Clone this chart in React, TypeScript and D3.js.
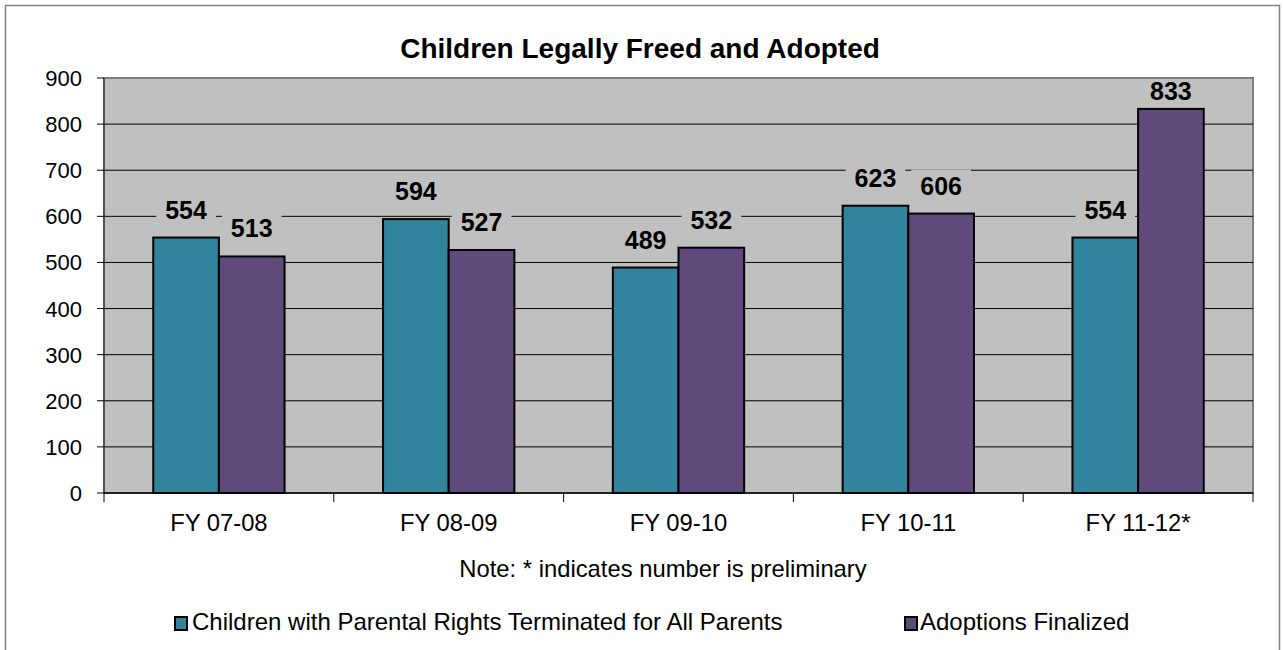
import React from "react";
import * as d3 from "d3";

const categories = ["FY 07-08", "FY 08-09", "FY 09-10", "FY 10-11", "FY 11-12*"];
const seriesNames = [
  "Children with Parental Rights Terminated for All Parents",
  "Adoptions Finalized",
];
const terminatedValues = [554, 594, 489, 623, 554];
const adoptedValues = [513, 527, 532, 606, 833];
const seriesColors = ["#31849B", "#604A7B"];
const yTicks = [0, 100, 200, 300, 400, 500, 600, 700, 800, 900];

const width = 1283;
const height = 650;
const plot = { left: 104, right: 1253, top: 78, bottom: 493 };
const font = "'Liberation Sans', Arial, sans-serif";

export default function App() {
  const x0 = d3
    .scaleBand<string>()
    .domain(categories)
    .range([plot.left, plot.right])
    .paddingInner(0)
    .paddingOuter(0);

  const x1 = d3
    .scaleBand<string>()
    .domain(seriesNames)
    .range([0, x0.bandwidth()])
    .paddingInner(0)
    .paddingOuter(0.75);

  const y = d3.scaleLinear().domain([0, 900]).range([plot.bottom, plot.top]);

  const seriesValues = [terminatedValues, adoptedValues];

  const bars = categories.flatMap((cat, i) =>
    seriesNames.map((name, s) => ({
      cat,
      name,
      s,
      value: seriesValues[s][i],
      x: (x0(cat) ?? 0) + (x1(name) ?? 0),
    })),
  );

  const labelSize = 25;

  return (
    <div style={{ position: "absolute", left: 0, top: 0 }}>
      <svg width={width} height={height} viewBox={`0 0 ${width} ${height}`} style={{ display: "block" }}>
        <rect x={0} y={0} width={width} height={height} fill="#ffffff" />
        <rect x={5.5} y={5.5} width={1274} height={680} fill="none" stroke="#808080" strokeWidth={1.5} />

        <text
          x={640}
          y={58}
          textAnchor="middle"
          fontFamily={font}
          fontSize={28}
          fontWeight="bold"
          fill="#000"
        >
          Children Legally Freed and Adopted
        </text>

        {/* plot area */}
        <rect
          x={plot.left}
          y={plot.top}
          width={plot.right - plot.left}
          height={plot.bottom - plot.top}
          fill="#C0C0C0"
          stroke="#808080"
          strokeWidth={2}
        />

        {yTicks
          .filter((t) => t > 0 && t < 900)
          .map((t) => (
            <line
              key={`g${t}`}
              x1={plot.left}
              x2={plot.right}
              y1={y(t)}
              y2={y(t)}
              stroke="#000"
              strokeWidth={1}
            />
          ))}

        {/* left axis */}
        <line x1={plot.left} x2={plot.left} y1={plot.top} y2={plot.bottom} stroke="#404040" strokeWidth={1.5} />
        {yTicks.map((t) => (
          <g key={`t${t}`}>
            <line x1={plot.left - 7} x2={plot.left} y1={y(t)} y2={y(t)} stroke="#000" strokeWidth={1} />
            <text
              x={82}
              y={y(t) + 8}
              textAnchor="end"
              fontFamily={font}
              fontSize={22}
              fill="#000"
            >
              {t}
            </text>
          </g>
        ))}

        {/* bars */}
        {bars.map((b) => (
          <rect
            key={`${b.cat}-${b.s}`}
            x={b.x}
            y={y(b.value)}
            width={x1.bandwidth()}
            height={plot.bottom - y(b.value)}
            fill={seriesColors[b.s]}
            stroke="#000"
            strokeWidth={2}
          />
        ))}

        {/* bottom axis */}
        <line x1={plot.left} x2={plot.right} y1={plot.bottom} y2={plot.bottom} stroke="#000" strokeWidth={1.5} />
        {categories.map((cat, i) => (
          <line
            key={`xt${i}`}
            x1={x0(cat) ?? 0}
            x2={x0(cat) ?? 0}
            y1={plot.bottom}
            y2={plot.bottom + 9}
            stroke="#000"
            strokeWidth={1}
          />
        ))}
        <line x1={plot.right} x2={plot.right} y1={plot.bottom} y2={plot.bottom + 9} stroke="#000" strokeWidth={1} />
        {categories.map((cat) => (
          <text
            key={`xl${cat}`}
            x={(x0(cat) ?? 0) + x0.bandwidth() / 2}
            y={531}
            textAnchor="middle"
            fontFamily={font}
            fontSize={23.8}
            fill="#000"
          >
            {cat}
          </text>
        ))}

        {/* data labels */}
        {bars.map((b) => {
          const cx = b.x + x1.bandwidth() / 2;
          const base = Math.max(y(b.value) - 19, plot.top + 22);
          const tw = String(b.value).length * 0.556 * labelSize;
          const top = Math.max(base - 25, plot.top + 1);
          return (
            <g key={`l${b.cat}-${b.s}`}>
              <rect x={cx - tw / 2 - 9} y={top} width={tw + 18} height={base + 6 - top} fill="#C0C0C0" />
              <text
                x={cx}
                y={base}
                textAnchor="middle"
                fontFamily={font}
                fontSize={labelSize}
                fontWeight="bold"
                fill="#000"
              >
                {b.value}
              </text>
            </g>
          );
        })}

        <text x={663} y={577} textAnchor="middle" fontFamily={font} fontSize={23.8} fill="#000">
          Note: * indicates number is preliminary
        </text>

        {/* legend */}
        {[
          { name: seriesNames[0], sx: 175, tx: 192 },
          { name: seriesNames[1], sx: 905, tx: 920 },
        ].map((item, s) => (
          <g key={`lg${s}`}>
            <rect x={item.sx} y={617} width={12} height={13} fill={seriesColors[s]} stroke="#000" strokeWidth={2} />
            <text x={item.tx} y={630} fontFamily={font} fontSize={24} fill="#000">
              {item.name}
            </text>
          </g>
        ))}
      </svg>
    </div>
  );
}
